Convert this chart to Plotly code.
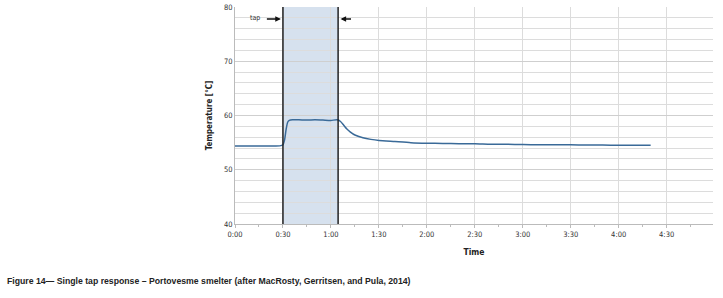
import plotly.graph_objects as go

# Data (time in minutes, temperature in °C)
time_min = [0, 10, 20, 28, 30, 31, 32, 33, 34, 36, 40, 45, 50, 55, 60, 64, 66, 68, 70, 72, 75, 80,
            85, 90, 100, 110, 120, 130, 140, 150, 160, 170, 180, 190, 200, 210, 220, 230, 240, 250, 260]
temperature = [54.4, 54.4, 54.4, 54.4, 54.6, 55.5, 57.5, 58.8, 59.1, 59.2, 59.2, 59.15, 59.2, 59.15,
               59.1, 59.2, 58.9, 58.2, 57.5, 57.0, 56.4, 55.9, 55.6, 55.4, 55.2, 55.0, 54.9, 54.85,
               54.8, 54.8, 54.7, 54.7, 54.65, 54.6, 54.6, 54.6, 54.55, 54.55, 54.5, 54.5, 54.5]
tap_start, tap_end = 30, 64.5
x_tick_vals = [0, 30, 60, 90, 120, 150, 180, 210, 240, 270]
x_tick_text = ["0:00", "0:30", "1:00", "1:30", "2:00", "2:30", "3:00", "3:30", "4:00", "4:30"]
y_tick_vals = [40, 50, 60, 70, 80]

FONT = "DejaVu Sans Condensed, DejaVu Sans, sans-serif"

fig = go.Figure()
fig.add_vrect(x0=tap_start, x1=tap_end, fillcolor="#d6e1ee", line_width=0, layer="below")
fig.add_trace(go.Scatter(x=time_min, y=temperature, mode="lines",
                         line=dict(color="#3a6a98", width=1.5, shape="spline", smoothing=0.6),
                         showlegend=False, hoverinfo="skip"))
for xv in (tap_start, tap_end):
    fig.add_shape(type="line", x0=xv, x1=xv, y0=40, y1=80, xref="x", yref="y",
                  line=dict(color="#222222", width=1.5))

fig.add_annotation(x=28.7, y=77.8, ax=19, ay=77.8, axref="x", ayref="y", xref="x", yref="y",
                   showarrow=True, arrowhead=2, arrowsize=0.8, arrowwidth=1.4, arrowcolor="#111", text="")
fig.add_annotation(x=17, y=77.9, text="tap", showarrow=False, xanchor="right",
                   font=dict(size=7, color="#333", family=FONT))
fig.add_annotation(x=66, y=77.8, ax=73.5, ay=77.8, axref="x", ayref="y", xref="x", yref="y",
                   showarrow=True, arrowhead=2, arrowsize=0.8, arrowwidth=1.4, arrowcolor="#111", text="")

fig.add_annotation(x=-0.481, y=-0.262, xref="paper", yref="paper", yanchor="middle",
                   xanchor="left", showarrow=False,
                   text="<b>Figure 14\u2014 Single tap response \u2013 Portovesme smelter (after MacRosty, Gerritsen, and Pula, 2014)</b>",
                   font=dict(size=8.7, color="#222", family="Liberation Sans Narrow, Liberation Sans, Arial, sans-serif"))

fig.update_layout(
    width=723, height=298,
    margin=dict(l=235, r=10, t=7, b=74),
    paper_bgcolor="white", plot_bgcolor="white",
    xaxis=dict(range=[0, 299], tickvals=x_tick_vals, ticktext=x_tick_text, automargin=False,
               showgrid=True, gridcolor="#dcdcdc", gridwidth=1,
               showline=True, linecolor="#bbbbbb", ticks="outside", ticklen=3, tickcolor="#bbb",
               minor=dict(dtick=15, tick0=0, ticks="outside", ticklen=2, tickcolor="#bbb", showgrid=False),
               tickfont=dict(size=7.5, color="#333333", family=FONT),
               title=dict(text="<b>Time</b>", standoff=11,
                          font=dict(size=8.5, color="#222", family=FONT)),
               zeroline=False),
    yaxis=dict(range=[40, 80], tickvals=y_tick_vals, automargin=False,
               showgrid=True, gridcolor="#cfcfcf", gridwidth=1,
               minor=dict(dtick=2, showgrid=True, gridcolor="#dcdcdc", gridwidth=1),
               showline=True, linecolor="#bbbbbb", ticks="",
               tickfont=dict(size=7.5, color="#333333", family=FONT),
               title=dict(text="<b>Temperature [°C]</b>", standoff=10,
                          font=dict(size=8, color="#222", family=FONT)),
               zeroline=False),
)

fig.write_html("out.html", config={"displayModeBar": False},
               post_script="document.body.style.margin='0';")
